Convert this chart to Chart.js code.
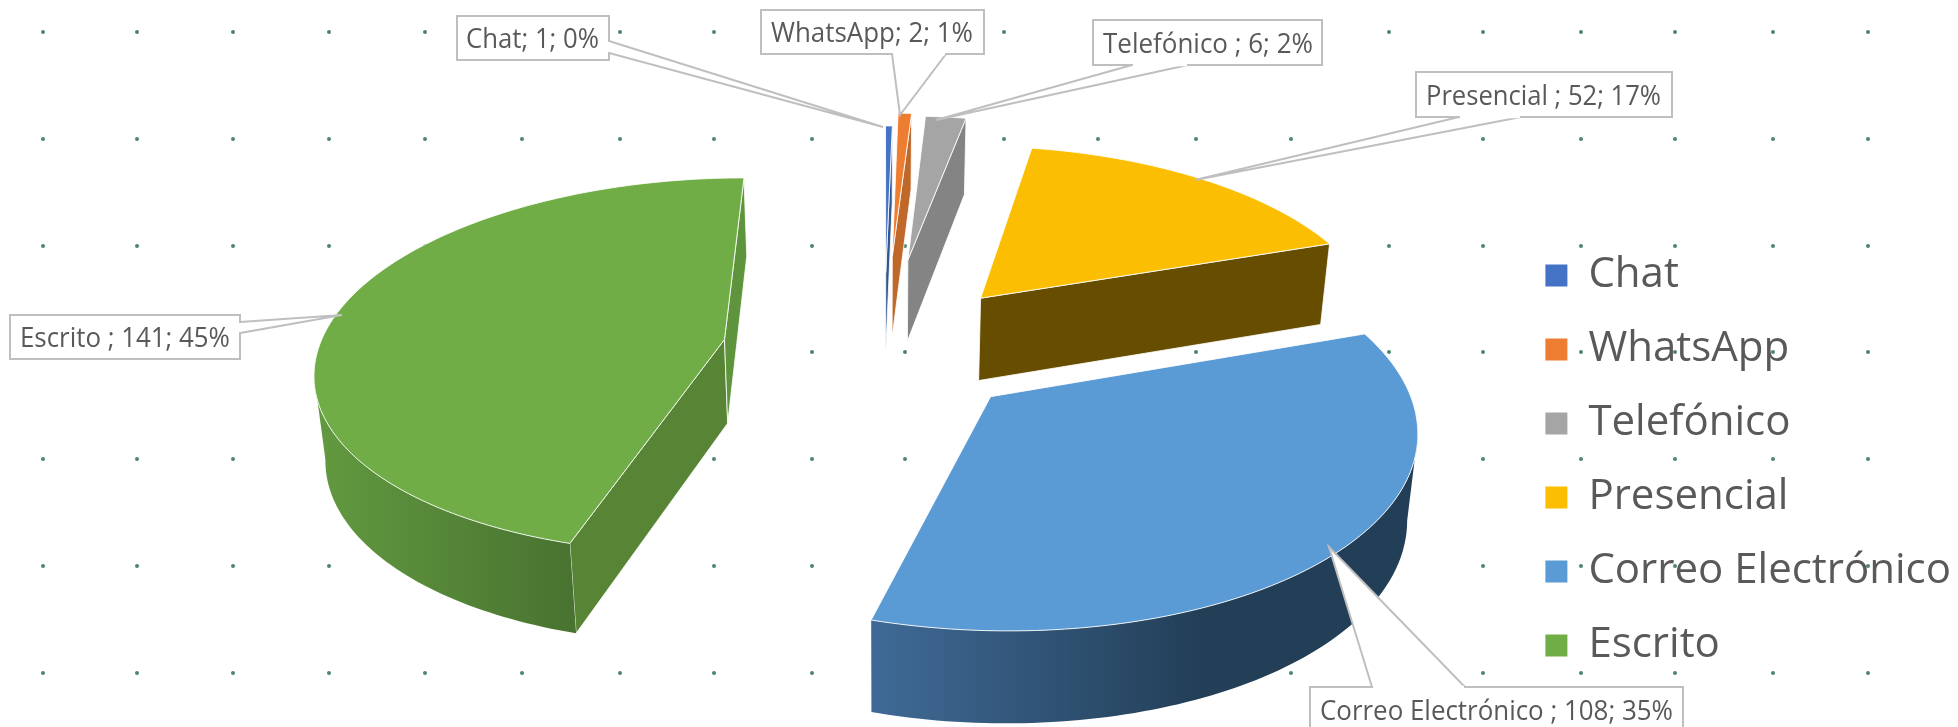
<!DOCTYPE html>
<html>
<head>
<meta charset="utf-8">
<title>Medios de recepción</title>
<script src="https://cdn.jsdelivr.net/npm/chart.js@4"></script>
<style>
  html, body { margin: 0; background: #fff; }
  canvas { display: block; }
</style>
</head>
<body>
<canvas id="graficoMedios" width="1958" height="727"></canvas>
<script>
// Datos del gráfico
const categorias = ['Chat', 'WhatsApp', 'Telefónico', 'Presencial', 'Correo Electrónico', 'Escrito'];
const valores = [1, 2, 6, 52, 108, 141];
const porcentajes = ['0%', '1%', '2%', '17%', '35%', '45%'];
const explosion = [44, 54, 52, 38, 35, 40];
const textosEtiqueta = ['Chat', 'WhatsApp', 'Telefónico ', 'Presencial ', 'Correo Electrónico ', 'Escrito '];

// Colores
const colores = ['#4472C4', '#ED7D31', '#A5A5A5', '#FBBE02', '#5B9BD5', '#70AD47'];
const coloresCara = ['#33568F', '#C0672A', '#848484', '#664D00', '#243F58', '#588435'];
const coloresCaraFin = ['#33568F', '#C0672A', '#848484', '#664D00', '#243F58', '#5E943C'];
const gradientesMuro = [
  ['#33568F', '#33568F'], ['#C0672A', '#C0672A'], ['#848484', '#848484'],
  ['#664D00', '#664D00'], ['#3F6A96', '#233F58'], ['#629A40', '#497330']
];
const finGradiente = [1, 1, 1, 1, 0.6, 1];

// Cámara de la vista 3D
const camara = { cx: 884, cy: 350, rx: 406, ry: 187, prof: 84, persp: 0.14, conv: 0.02 };

// Puntos de fondo
const columnasPuntos = [43, 137, 233, 329, 425, 522, 620, 714, 812, 905, 1004, 1098, 1196, 1291, 1389, 1483, 1581, 1675, 1773, 1868];
const filasPuntos = [32, 139, 246, 352, 459, 566, 673];

// Cajas de etiquetas: caja [x, y, ancho, alto], base del globo, punta, texto [x, linea base, ancho]
const globos = [
  { caja: [457, 16, 152, 44], base: [[609, 41], [609, 53]], punta: [883, 127], texto: [466, 48, 133] },
  { caja: [761, 10, 223, 44], base: [[892, 54], [946, 54]], punta: [900, 115], texto: [771, 42, 202] },
  { caja: [1093, 20, 229, 45], base: [[1132, 65], [1188, 65]], punta: [936, 120], texto: [1103, 53, 210] },
  { caja: [1416, 72, 256, 45], base: [[1459, 117], [1521, 117]], punta: [1195, 180], texto: [1426, 105, 235] },
  { caja: [1310, 687, 373, 44], base: [[1372, 687], [1465, 687]], punta: [1329, 547], texto: [1320, 720, 353] },
  { caja: [10, 315, 230, 44], base: [[240, 322], [240, 333]], punta: [342, 315], texto: [20, 347, 210] }
];

function proyectar(u, v){
  const w = 1 + camara.persp * v;
  return { x: camara.cx + camara.rx * u / w, y: camara.cy - camara.ry * v / w, w: w };
}

// Punto equivalente en la base de la porción
function bajar(p){
  return {
    x: camara.cx + (p.x - camara.cx) * (1 - camara.conv),
    y: p.y + camara.prof / Math.sqrt(p.w)
  };
}

function trazar(ctx, puntos){
  ctx.beginPath();
  puntos.forEach((p, i) => i ? ctx.lineTo(p.x, p.y) : ctx.moveTo(p.x, p.y));
  ctx.closePath();
}

// Pasa cada arco calculado por Chart.js a la vista 3D
function dibujarPorcion(ctx, arco, i){
  const { startAngle, endAngle, outerRadius } = arco.getProps(['startAngle', 'endAngle', 'outerRadius'], true);
  const medio = (startAngle + endAngle) / 2;
  const e = arco.options.offset / outerRadius;
  const ox = Math.cos(medio) * e;
  const oy = -Math.sin(medio) * e;

  const borde = [];
  const pasos = Math.max(2, Math.ceil((endAngle - startAngle) / 0.02));
  for(let k = 0; k <= pasos; k++){
    const a = startAngle + (endAngle - startAngle) * k / pasos;
    borde.push(proyectar(Math.cos(a) + ox, -Math.sin(a) + oy));
  }
  const vertice = proyectar(ox, oy);

  // Caras rectas (solo las que miran hacia el frente)
  const inicio = borde[0];
  const fin = borde[borde.length - 1];
  if(inicio.x < vertice.x){
    ctx.fillStyle = coloresCara[i];
    trazar(ctx, [vertice, inicio, bajar(inicio), bajar(vertice)]);
    ctx.fill();
    ctx.strokeStyle = 'rgba(255,255,255,0.8)';
    ctx.lineWidth = 1;
    ctx.stroke();
  }
  if(vertice.x < fin.x){
    ctx.fillStyle = coloresCaraFin[i];
    trazar(ctx, [fin, vertice, bajar(vertice), bajar(fin)]);
    ctx.fill();
    ctx.strokeStyle = 'rgba(255,255,255,0.8)';
    ctx.lineWidth = 1;
    ctx.stroke();
  }

  // Muro exterior
  const arriba = [];
  for(let k = 0; k < borde.length - 1; k++){
    if(borde[k + 1].x < borde[k].x){
      if(!arriba.length) arriba.push(borde[k]);
      arriba.push(borde[k + 1]);
    }
  }
  if(arriba.length > 1){
    const abajo = arriba.map(bajar).reverse();
    const xs = arriba.map(p => p.x);
    const g = ctx.createLinearGradient(Math.min(...xs), 0, Math.max(...xs), 0);
    g.addColorStop(0, gradientesMuro[i][0]);
    g.addColorStop(finGradiente[i], gradientesMuro[i][1]);
    g.addColorStop(1, gradientesMuro[i][1]);
    ctx.fillStyle = g;
    trazar(ctx, arriba.concat(abajo));
    ctx.fill();
  }

  // Cara superior
  ctx.fillStyle = arco.options.backgroundColor;
  trazar(ctx, [vertice].concat(borde));
  ctx.fill();
  ctx.strokeStyle = 'rgba(255,255,255,0.85)';
  ctx.lineWidth = 1;
  ctx.stroke();
}

function dibujarGlobo(ctx, globo, i){
  const [x, y, an, al] = globo.caja;
  ctx.fillStyle = '#fff';
  ctx.strokeStyle = '#BFBFBF';
  ctx.lineWidth = 2;
  ctx.beginPath();
  ctx.moveTo(globo.base[0][0], globo.base[0][1]);
  ctx.lineTo(globo.punta[0], globo.punta[1]);
  ctx.lineTo(globo.base[1][0], globo.base[1][1]);
  ctx.closePath();
  ctx.fill();
  ctx.stroke();
  ctx.fillRect(x, y, an, al);
  ctx.strokeRect(x, y, an, al);
  // abrir la unión entre la caja y el globo
  ctx.strokeStyle = '#fff';
  ctx.lineWidth = 2.5;
  ctx.beginPath();
  const dx = Math.sign(globo.base[1][0] - globo.base[0][0]);
  const dy = Math.sign(globo.base[1][1] - globo.base[0][1]);
  ctx.moveTo(globo.base[0][0] + dx, globo.base[0][1] + dy);
  ctx.lineTo(globo.base[1][0] - dx, globo.base[1][1] - dy);
  ctx.stroke();

  const texto = textosEtiqueta[i] + '; ' + valores[i] + '; ' + porcentajes[i];
  const [tx, ty, tw] = globo.texto;
  ctx.save();
  ctx.font = '27px "Open Sans"';
  ctx.fillStyle = '#595959';
  ctx.textBaseline = 'alphabetic';
  ctx.translate(tx, ty);
  ctx.scale(tw / ctx.measureText(texto).width, 1);
  ctx.fillText(texto, 0, 0);
  ctx.restore();
}

const pluginPie3D = {
  id: 'pie3d',
  beforeDraw(chart){
    const ctx = chart.ctx;
    ctx.save();
    ctx.fillStyle = '#fff';
    ctx.fillRect(0, 0, chart.width, chart.height);
    ctx.fillStyle = '#4F8570';
    filasPuntos.forEach(y => columnasPuntos.forEach(x => {
      ctx.beginPath();
      ctx.arc(x, y, 2, 0, Math.PI * 2);
      ctx.fill();
    }));
    ctx.restore();
  },
  beforeDatasetsDraw(chart){
    const ctx = chart.ctx;
    ctx.save();
    chart.getDatasetMeta(0).data.forEach((arco, i) => dibujarPorcion(ctx, arco, i));
    globos.forEach((g, i) => dibujarGlobo(ctx, g, i));
    ctx.restore();
    return false;
  }
};

new Chart(document.getElementById('graficoMedios'), {
  type: 'pie',
  plugins: [pluginPie3D],
  data: {
    labels: categorias,
    datasets: [{
      data: valores,
      backgroundColor: colores,
      offset: explosion,
      borderWidth: 0
    }]
  },
  options: {
    responsive: false,
    animation: false,
    radius: 100,
    layout: { padding: { top: 194, right: -3 } },
    plugins: {
      tooltip: { enabled: false },
      legend: {
        position: 'right',
        labels: {
          color: '#595959',
          boxWidth: 22,
          boxHeight: 22,
          padding: 32,
          font: { family: '"Open Sans"', size: 42 }
        }
      }
    }
  }
});
</script>
</body>
</html>
